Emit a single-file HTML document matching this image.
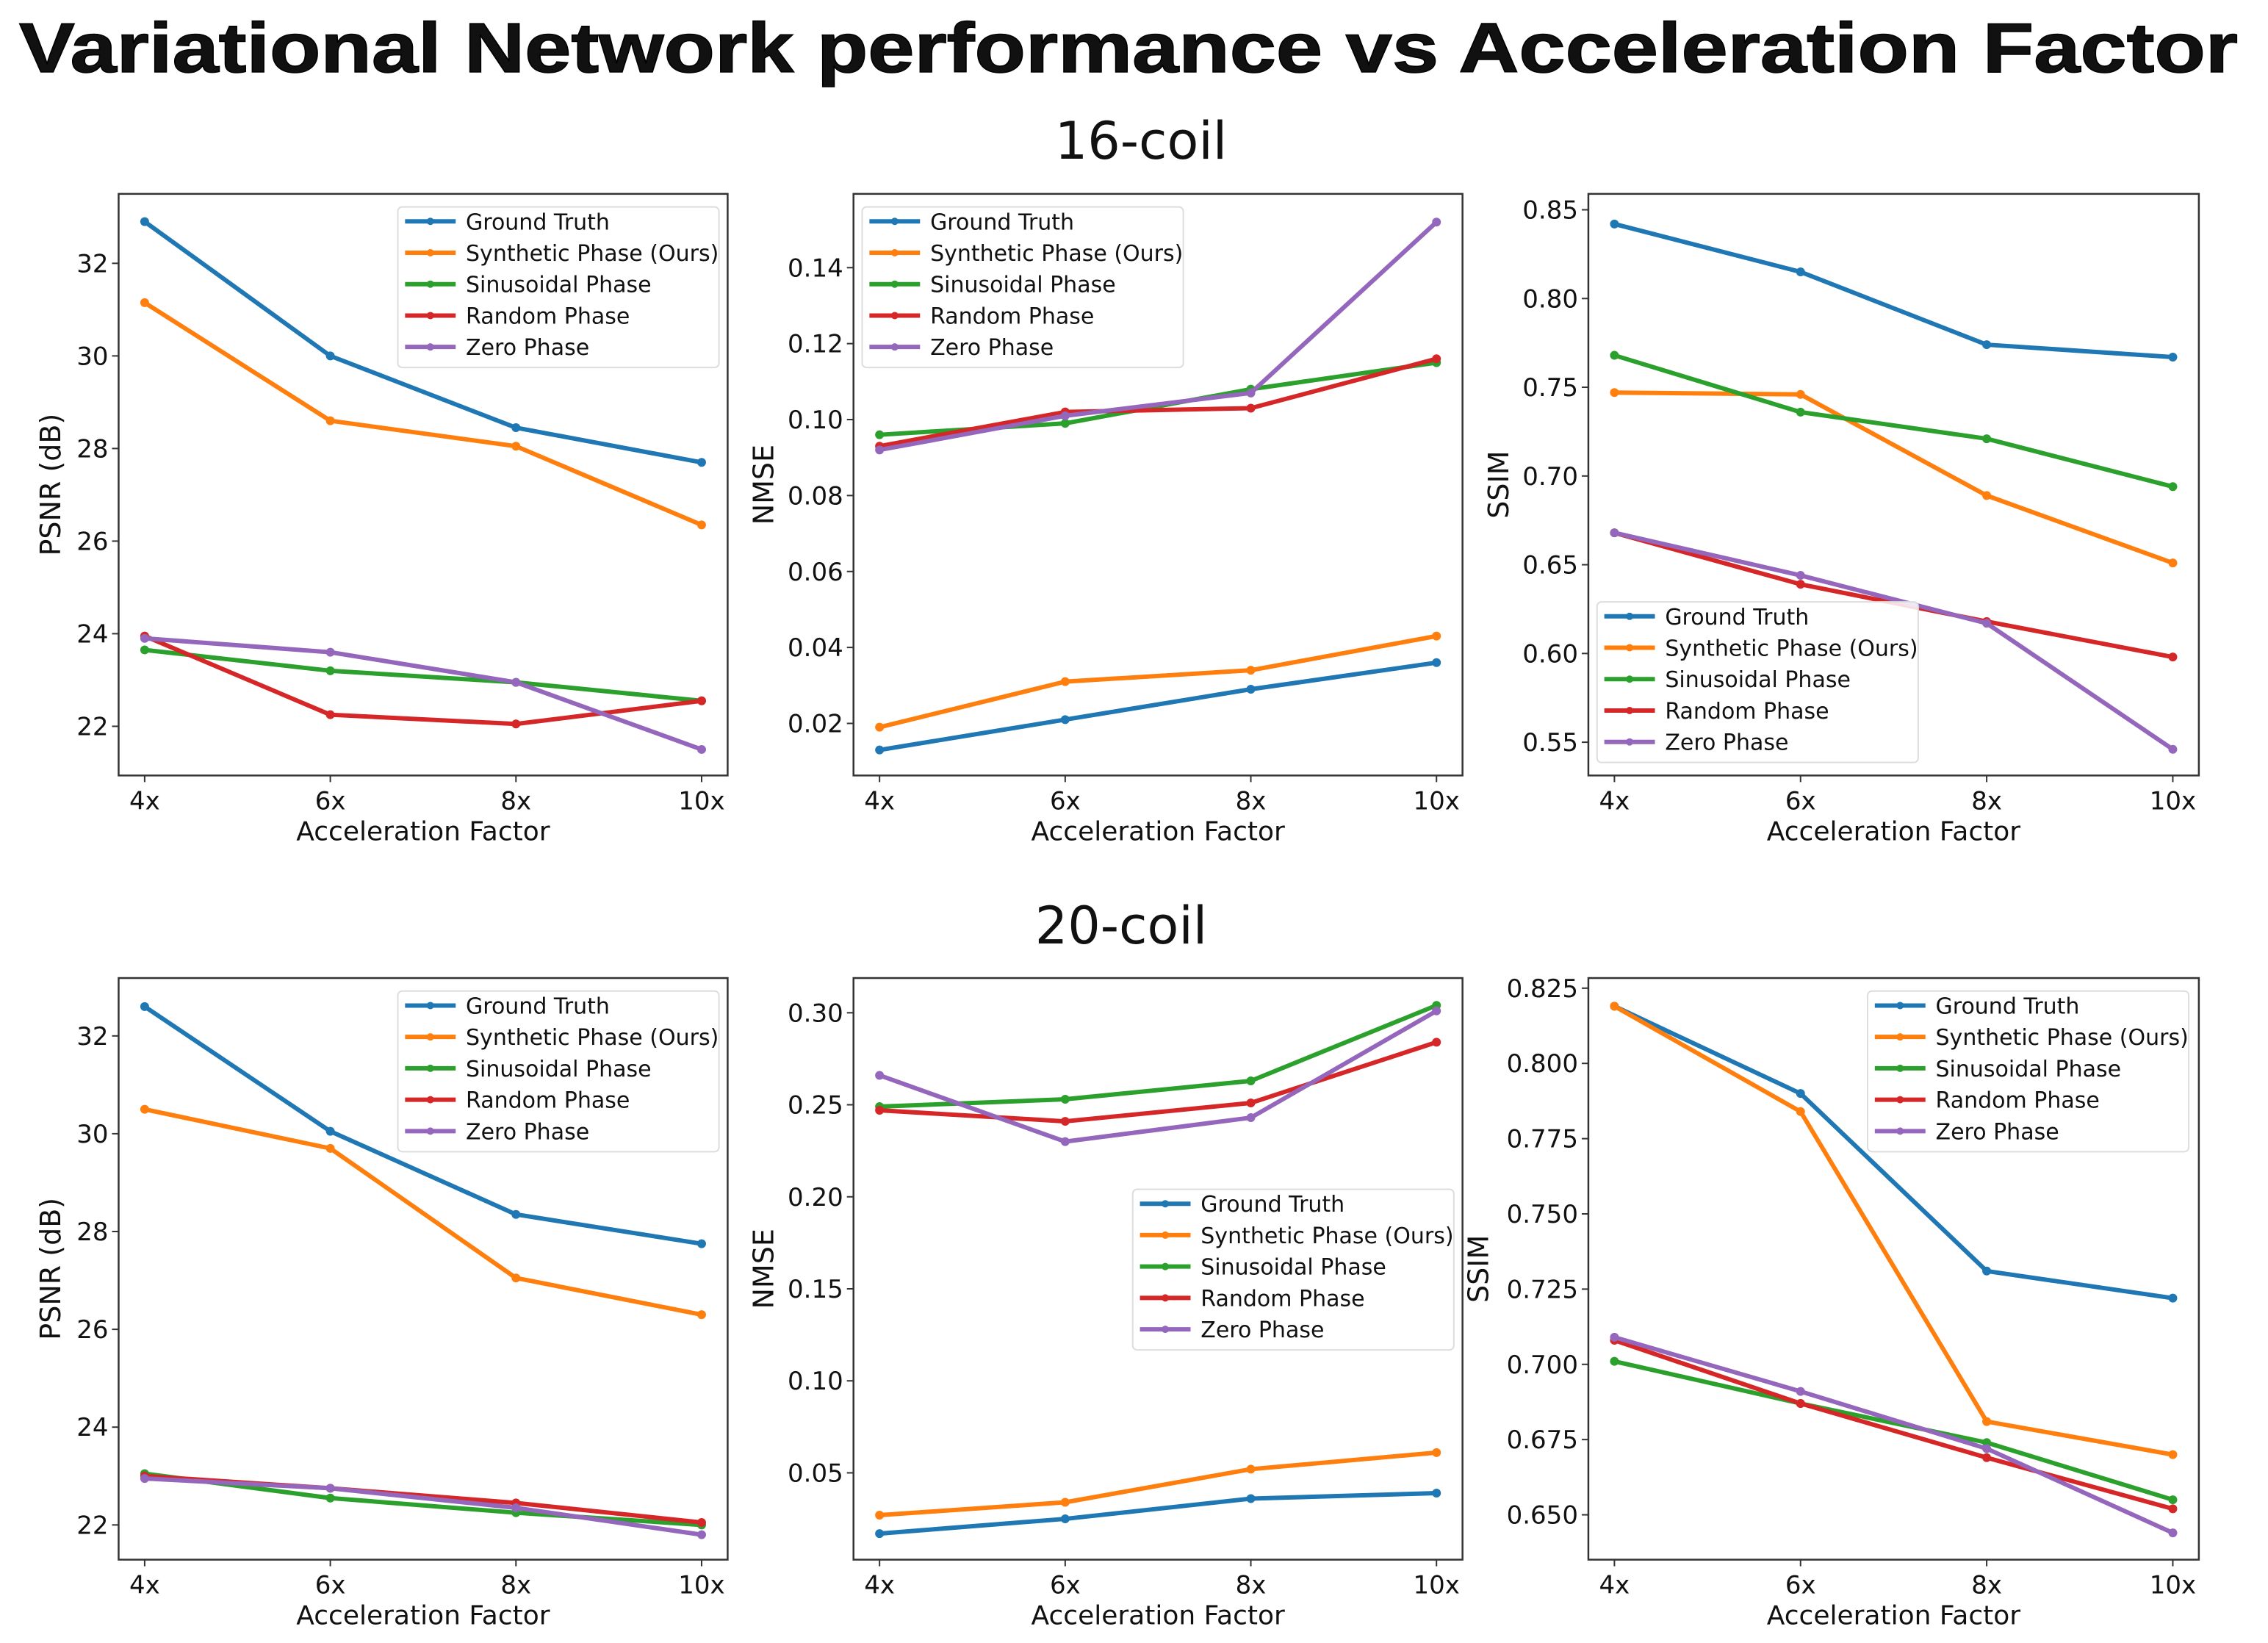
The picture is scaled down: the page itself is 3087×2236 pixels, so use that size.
<!DOCTYPE html>
<html><head><meta charset="utf-8"><style>
html,body{margin:0;padding:0;background:#fff;}
svg{display:block;}
text{font-family:"DejaVu Sans","Liberation Sans",sans-serif;fill:#111;}
</style></head><body>
<svg id="fig" width="3087" height="2236" viewBox="0 0 3087 2236" xmlns="http://www.w3.org/2000/svg">
<rect width="3087" height="2236" fill="#fff"/>
<text x="1536" y="98" text-anchor="middle" font-size="96" font-weight="bold" textLength="3020" lengthAdjust="spacingAndGlyphs" style="font-family:'Liberation Sans',sans-serif;font-weight:900;stroke:#000;stroke-width:1.5">Variational Network performance vs Acceleration Factor</text>
<text x="1553" y="216" text-anchor="middle" font-size="70">16-coil</text>
<text x="1526" y="1284" text-anchor="middle" font-size="70">20-coil</text>
</svg>
<script>
const categories = ["4x","6x","8x","10x"];
const seriesNames = ["Ground Truth","Synthetic Phase (Ours)","Sinusoidal Phase","Random Phase","Zero Phase"];
const colors = ["#1f77b4","#ff7f0e","#2ca02c","#d62728","#9467bd"];

const psnr16_gt = [32.9, 30.0, 28.45, 27.7];
const psnr16_syn = [31.15, 28.6, 28.05, 26.35];
const psnr16_sin = [23.65, 23.2, 22.95, 22.55];
const psnr16_rand = [23.95, 22.25, 22.05, 22.55];
const psnr16_zero = [23.9, 23.6, 22.95, 21.5];
const psnrTicks = [22, 24, 26, 28, 30, 32];

const nmse16_gt = [0.013, 0.021, 0.029, 0.036];
const nmse16_syn = [0.019, 0.031, 0.034, 0.043];
const nmse16_sin = [0.096, 0.099, 0.108, 0.115];
const nmse16_rand = [0.093, 0.102, 0.103, 0.116];
const nmse16_zero = [0.092, 0.101, 0.107, 0.152];
const nmse16Ticks = [0.02, 0.04, 0.06, 0.08, 0.10, 0.12, 0.14];

const ssim16_gt = [0.842, 0.815, 0.774, 0.767];
const ssim16_syn = [0.747, 0.746, 0.689, 0.651];
const ssim16_sin = [0.768, 0.736, 0.721, 0.694];
const ssim16_rand = [0.668, 0.639, 0.618, 0.598];
const ssim16_zero = [0.668, 0.644, 0.617, 0.546];
const ssim16Ticks = [0.55, 0.60, 0.65, 0.70, 0.75, 0.80, 0.85];

const psnr20_gt = [32.6, 30.05, 28.35, 27.75];
const psnr20_syn = [30.5, 29.7, 27.05, 26.3];
const psnr20_sin = [23.05, 22.55, 22.25, 22.0];
const psnr20_rand = [23.0, 22.75, 22.45, 22.05];
const psnr20_zero = [22.95, 22.75, 22.35, 21.8];

const nmse20_gt = [0.017, 0.025, 0.036, 0.039];
const nmse20_syn = [0.027, 0.034, 0.052, 0.061];
const nmse20_sin = [0.249, 0.253, 0.263, 0.304];
const nmse20_rand = [0.247, 0.241, 0.251, 0.284];
const nmse20_zero = [0.266, 0.230, 0.243, 0.301];
const nmse20Ticks = [0.05, 0.10, 0.15, 0.20, 0.25, 0.30];

const ssim20_gt = [0.819, 0.790, 0.731, 0.722];
const ssim20_syn = [0.819, 0.784, 0.681, 0.670];
const ssim20_sin = [0.701, 0.687, 0.674, 0.655];
const ssim20_rand = [0.708, 0.687, 0.669, 0.652];
const ssim20_zero = [0.709, 0.691, 0.672, 0.644];
const ssim20Ticks = [0.650, 0.675, 0.700, 0.725, 0.750, 0.775, 0.800, 0.825];

const S = 1.969;
const NS = "http://www.w3.org/2000/svg";
const svg = document.getElementById('fig');
function el(tag, attrs, parent){const e=document.createElementNS(NS,tag);for(const k in attrs)e.setAttribute(k,attrs[k]);(parent||svg).appendChild(e);return e;}

const panels = [
 {id:'psnr-16',L:82,R:503,T:134,B:536,ylab:'PSNR (dB)',ylx:35,v0:22,y0:502,v1:32,y1:182,ticks:psnrTicks,dec:0,data:[psnr16_gt,psnr16_syn,psnr16_sin,psnr16_rand,psnr16_zero],lg:[275,143]},
 {id:'nmse-16',L:590,R:1011,T:134,B:536,ylab:'NMSE',ylx:528,v0:0.02,y0:500,v1:0.14,y1:185,ticks:nmse16Ticks,dec:2,data:[nmse16_gt,nmse16_syn,nmse16_sin,nmse16_rand,nmse16_zero],lg:[596,143]},
 {id:'ssim-16',L:1098,R:1520,T:134,B:536,ylab:'SSIM',ylx:1036,v0:0.55,y0:513,v1:0.85,y1:145,ticks:ssim16Ticks,dec:2,data:[ssim16_gt,ssim16_syn,ssim16_sin,ssim16_rand,ssim16_zero],lg:[1104,416]},
 {id:'psnr-20',L:82,R:503,T:676,B:1078,ylab:'PSNR (dB)',ylx:35,v0:22,y0:1054,v1:32,y1:716,ticks:psnrTicks,dec:0,data:[psnr20_gt,psnr20_syn,psnr20_sin,psnr20_rand,psnr20_zero],lg:[275,685]},
 {id:'nmse-20',L:590,R:1011,T:676,B:1078,ylab:'NMSE',ylx:528,v0:0.05,y0:1018,v1:0.30,y1:700,ticks:nmse20Ticks,dec:2,data:[nmse20_gt,nmse20_syn,nmse20_sin,nmse20_rand,nmse20_zero],lg:[783,822]},
 {id:'ssim-20',L:1098,R:1520,T:676,B:1078,ylab:'SSIM',ylx:1022,v0:0.650,y0:1047,v1:0.825,y1:683,ticks:ssim20Ticks,dec:3,data:[ssim20_gt,ssim20_syn,ssim20_sin,ssim20_rand,ssim20_zero],lg:[1291,685]},
];

panels.forEach(p=>{
  const g = el('g',{});
  
  
  const L=p.L*S,R=p.R*S,T=p.T*S,B=p.B*S;
  const inset=18*S;
  const xs = i => L+inset+(R-L-2*inset)*i/(categories.length-1);
  const ys = v => (p.y0+(v-p.v0)*(p.y1-p.y0)/(p.v1-p.v0))*S;
  p.ticks.forEach(t=>{
    const y=ys(t);
    el('line',{x1:L-9,x2:L,y1:y,y2:y,stroke:'#333','stroke-width':2},g);
    const tx=el('text',{x:L-14,y:y+12,'text-anchor':'end','font-size':34},g);
    tx.textContent=t.toFixed(p.dec);
    
    
  });
  categories.forEach((c,i)=>{
    const x=xs(i);
    el('line',{x1:x,x2:x,y1:B,y2:B+9,stroke:'#333','stroke-width':2},g);
    const tx=el('text',{x:x,y:B+46,'text-anchor':'middle','font-size':34},g);
    tx.textContent=c;
    
    
  });
  const xl=el('text',{x:(L+R)/2,y:B+88,'text-anchor':'middle','font-size':36},g);
  xl.textContent='Acceleration Factor';
  
  
  const cy=(T+B)/2, cx=p.ylx*S;
  const yl=el('text',{x:cx,y:cy,'text-anchor':'middle','font-size':38,transform:`rotate(-90 ${cx} ${cy})`,dy:13},g);
  yl.textContent=p.ylab;
  
  
  p.data.forEach((d,si)=>{
    const pts=d.map((v,i)=>xs(i)+','+ys(v)).join(' ');
    const pl=el('polyline',{points:pts,fill:'none',stroke:colors[si],'stroke-width':6,'stroke-linejoin':'round','stroke-linecap':'round'},g);
    
    
    d.forEach((v,i)=>{
      const m=el('circle',{cx:xs(i),cy:ys(v),r:6,fill:colors[si]},g);
      
      
    });
  });
  el('rect',{x:L,y:T,width:R-L,height:B-T,fill:'none',stroke:'#333','stroke-width':2.5},g);
  const lx=p.lg[0]*S, ly=p.lg[1]*S;
  const lg=el('g',{},g);
  
  
  el('rect',{x:lx,y:ly,width:222*S,height:111*S,rx:6,fill:'#fff','fill-opacity':0.85,stroke:'#ddd','stroke-width':2},lg);
  seriesNames.forEach((n,si)=>{
    const yy=ly+(10+21.7*si)*S;
    const e=el('g',{},lg);
    
    
    el('line',{x1:lx+5*S,x2:lx+40*S,y1:yy,y2:yy,stroke:colors[si],'stroke-width':6},e);
    el('circle',{cx:lx+22.5*S,cy:yy,r:5,fill:colors[si]},e);
    const t=el('text',{x:lx+47*S,y:yy+11,'font-size':30},e);
    t.textContent=n;
  });
});
</script>
</body></html>
